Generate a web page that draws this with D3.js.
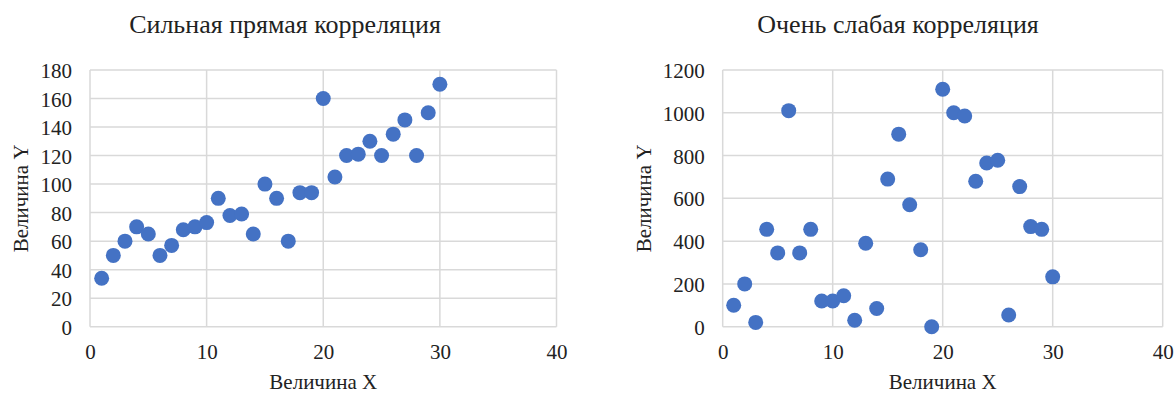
<!DOCTYPE html>
<html>
<head>
<meta charset="utf-8">
<script src="https://cdn.jsdelivr.net/npm/d3@7"></script>
<style>
  html, body { margin: 0; padding: 0; background: #fff; }
  svg { display: block; }
</style>
</head>
<body>
<svg id="chart" width="1175" height="394"></svg>
<script>
// Shared X values (observation number)
const xValues = [1,2,3,4,5,6,7,8,9,10,11,12,13,14,15,16,17,18,19,20,21,22,23,24,25,26,27,28,29,30];

// Strong positive correlation
const strongY = [34,50,60,70,65,50,57,68,70,73,90,78,79,65,100,90,60,94,94,160,105,120,121,130,120,135,145,120,150,170];

// Very weak correlation
const weakY = [100,200,20,455,345,1010,345,455,120,120,145,30,390,85,690,900,570,360,0,1110,1000,985,680,765,778,55,655,468,455,233];

const xTicks = [0,10,20,30,40];
const strongYTicks = [0,20,40,60,80,100,120,140,160,180];
const weakYTicks = [0,200,400,600,800,1000,1200];

const titles = ["Сильная прямая корреляция", "Очень слабая корреляция"];
const xTitle = "Величина X";
const yTitle = "Величина Y";

const FONT = '"Liberation Serif", "Times New Roman", serif';
const INK = "#222";
const GRID = "#d9d9d9";
const DOT = "#4472c4";

const svg = d3.select("#chart");

const panels = [
  { title: titles[0], ys: strongY, yTicks: strongYTicks, yMax: 180,
    plot: { left: 90, right: 556.5, top: 70, bottom: 326.7 }, titleX: 285, yTitleX: 27.5 },
  { title: titles[1], ys: weakY, yTicks: weakYTicks, yMax: 1200,
    plot: { left: 722.7, right: 1162.7, top: 70, bottom: 326.7 }, titleX: 898, yTitleX: 651 }
];

function styleText(sel, size) {
  sel.style("font-family", FONT).style("font-size", size + "px").style("fill", INK);
}

panels.forEach(p => {
  const g = svg.append("g");
  const x = d3.scaleLinear().domain([0, 40]).range([p.plot.left, p.plot.right]);
  const y = d3.scaleLinear().domain([0, p.yMax]).range([p.plot.bottom, p.plot.top]);

  // grid lines (the outer ones form the plot frame)
  g.append("g").selectAll("line").data(p.yTicks).join("line")
    .attr("x1", p.plot.left).attr("x2", p.plot.right)
    .attr("y1", d => y(d)).attr("y2", d => y(d))
    .attr("stroke", GRID).attr("stroke-width", 1.5);
  g.append("g").selectAll("line").data(xTicks).join("line")
    .attr("y1", p.plot.top).attr("y2", p.plot.bottom)
    .attr("x1", d => x(d)).attr("x2", d => x(d))
    .attr("stroke", GRID).attr("stroke-width", 1.5);

  // axis tick labels
  const xAxis = g.append("g")
    .attr("transform", `translate(0,${p.plot.bottom})`)
    .call(d3.axisBottom(x).tickValues(xTicks).tickFormat(d3.format("d")).tickSize(0).tickPadding(17));
  xAxis.select(".domain").remove();
  styleText(xAxis.selectAll("text"), 21);

  const yAxis = g.append("g")
    .attr("transform", `translate(${p.plot.left},0)`)
    .call(d3.axisLeft(y).tickValues(p.yTicks).tickFormat(d3.format("d")).tickSize(0).tickPadding(18));
  yAxis.select(".domain").remove();
  styleText(yAxis.selectAll("text"), 21);
  yAxis.selectAll("text").attr("dy", "0.36em");

  // points
  g.append("g").selectAll("circle").data(xValues.map((d, i) => [d, p.ys[i]])).join("circle")
    .attr("cx", d => x(d[0])).attr("cy", d => y(d[1]))
    .attr("r", 7.5).attr("fill", DOT);

  // titles
  styleText(g.append("text").attr("x", p.titleX).attr("y", 33)
    .attr("text-anchor", "middle").text(p.title), 26);
  styleText(g.append("text").attr("x", (p.plot.left + p.plot.right) / 2).attr("y", 389)
    .attr("text-anchor", "middle").text(xTitle), 21);
  styleText(g.append("text")
    .attr("transform", `translate(${p.yTitleX},${(p.plot.top + p.plot.bottom) / 2}) rotate(-90)`)
    .attr("text-anchor", "middle").text(yTitle), 21);
});
</script>
</body>
</html>
